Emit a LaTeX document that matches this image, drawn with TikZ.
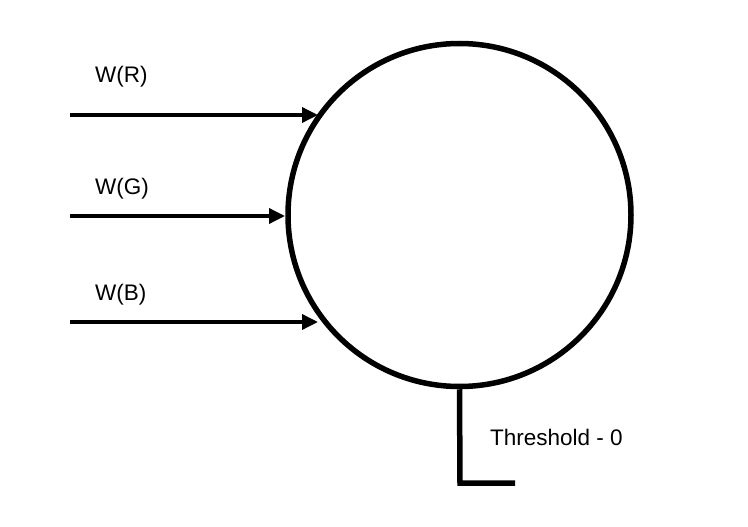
\documentclass[tikz,border=0pt]{standalone}
\usepackage{fontspec}
\setmainfont{Liberation Sans}
\usetikzlibrary{arrows.meta}
\begin{document}
\begin{tikzpicture}[x=1pt,y=-1pt,
  lbl/.style={anchor=base west,inner sep=0pt,font=\fontsize{22.5}{26}\selectfont},
  inarrow/.style={line width=3.5pt,-{Triangle[length=16pt,width=15pt]}},
  thick line/.style={line width=5.5pt}]
\useasboundingbox (0,0) rectangle (748,527);
\node[circle,draw,line width=5.5pt,minimum size=343pt,inner sep=0pt] (c) at (459.5,215) {};
\coordinate (r0) at (70,115);
\coordinate (r1) at (318,115);
\coordinate (g0) at (70,216);
\coordinate (g1) at (285,216);
\coordinate (b0) at (70,322);
\coordinate (b1) at (318,322);
\draw[inarrow] (r0) -- (r1);
\draw[inarrow] (g0) -- (g1);
\draw[inarrow] (b0) -- (b1);
\node[lbl] (wr) at (95,83) {W(R)};
\node[lbl] (wg) at (95,194) {W(G)};
\node[lbl] (wb) at (95,300) {W(B)};
\coordinate (t1) at (460,483);
\coordinate (t2) at (515,483);
\draw[thick line] (c.south) -- (t1) -- (t2);
\node[lbl] (th) at (490,445) {Threshold - 0};
\end{tikzpicture}
\end{document}
